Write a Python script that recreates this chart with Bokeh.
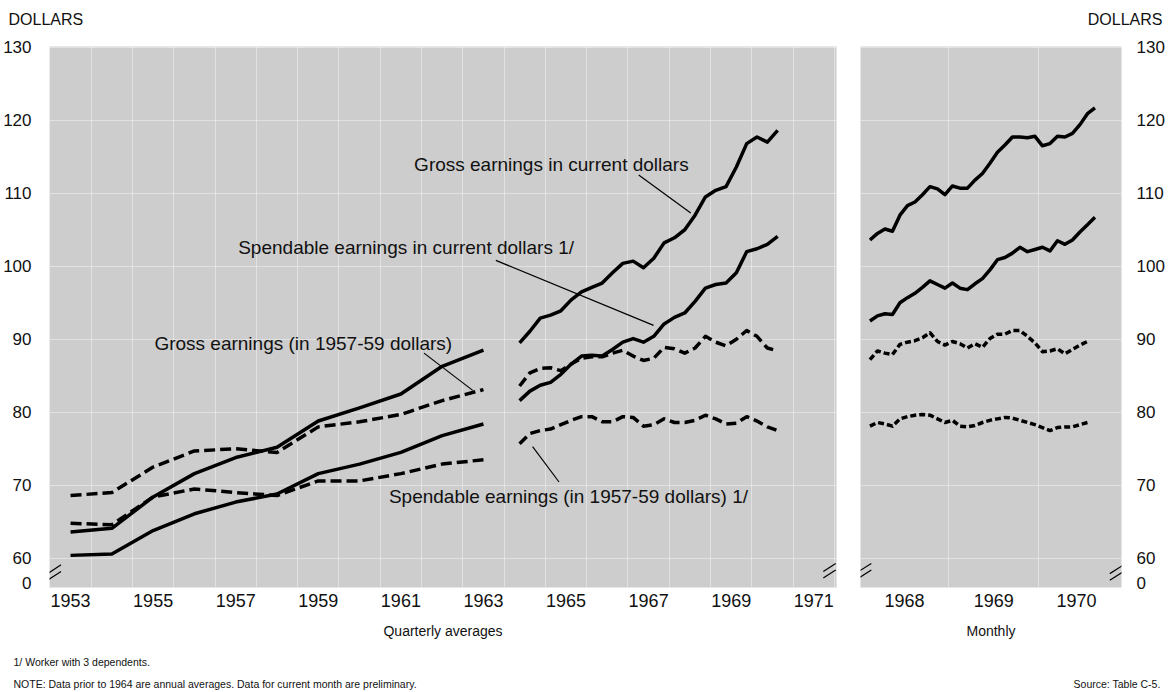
from bokeh.plotting import figure
from bokeh.models import FixedTicker, Label, CustomJSTickFormatter
from bokeh.layouts import row, column
from bokeh.embed import file_html
from bokeh.resources import INLINE

# ---------------- data ----------------
# Annual averages (1953-1963)
annual_years = [1953, 1954, 1955, 1956, 1957, 1958, 1959, 1960, 1961, 1962, 1963]
annual_gross_current = [63.6, 64.1, 68.4, 71.6, 73.8, 75.2, 78.8, 80.6, 82.5, 86.3, 88.5]
annual_gross_real = [68.6, 69.0, 72.5, 74.7, 75.0, 74.5, 78.0, 78.7, 79.7, 81.6, 83.1]
annual_spend_current = [60.4, 60.6, 63.8, 66.1, 67.7, 68.8, 71.6, 72.9, 74.5, 76.8, 78.4]
annual_spend_real = [64.8, 64.6, 68.4, 69.5, 69.0, 68.6, 70.6, 70.6, 71.6, 72.9, 73.5]

# Quarterly averages (1964-II .. 1970-III)
quarters = [f"{y}-{q}" for y in range(1964, 1971) for q in ("I", "II", "III", "IV")][1:27]
q_gross_current = [89.5, 91.1, 92.9, 93.3, 93.9, 95.4, 96.5, 97.1, 97.7, 99.1, 100.4, 100.7, 99.8,
                   101.1, 103.2, 103.9, 105.0, 107.0, 109.5, 110.4, 110.9, 113.6, 116.8, 117.7, 117.0, 118.6]
q_spend_current = [81.6, 82.9, 83.7, 84.1, 85.2, 86.6, 87.7, 87.8, 87.7, 88.6, 89.6, 90.1, 89.6,
                   90.4, 92.1, 93.0, 93.6, 95.2, 97.0, 97.5, 97.7, 99.1, 102.0, 102.4, 103.0, 104.1]
q_gross_real = [83.6, 85.4, 86.0, 86.1, 85.7, 86.6, 87.4, 87.6, 87.6, 88.1, 88.5, 87.7, 87.1,
                87.4, 88.9, 88.7, 88.1, 88.8, 90.4, 89.6, 89.1, 90.0, 91.2, 90.4, 88.8, 88.4]
q_spend_real = [75.7, 77.1, 77.5, 77.7, 78.3, 78.9, 79.4, 79.4, 78.7, 78.7, 79.4, 79.3, 78.1,
                78.3, 79.1, 78.6, 78.6, 78.9, 79.6, 79.1, 78.4, 78.5, 79.4, 78.8, 78.0, 77.5]

# Monthly (1968-02 .. 1970-08)
months = [f"{y}-{m:02d}" for y in range(1968, 1971) for m in range(1, 13)][1:32]
m_gross_current = [103.6, 104.5, 105.1, 104.8, 107.0, 108.3, 108.8, 109.8, 110.9, 110.6, 109.8,
                   111.0, 110.7, 110.7, 111.8, 112.7, 114.1, 115.6, 116.6, 117.7, 117.7, 117.6,
                   117.8, 116.5, 116.8, 117.8, 117.7, 118.2, 119.4, 120.9, 121.7]
m_spend_current = [92.5, 93.2, 93.5, 93.4, 95.0, 95.7, 96.3, 97.1, 98.0, 97.5, 97.0,
                   97.7, 97.0, 96.8, 97.6, 98.3, 99.5, 100.9, 101.2, 101.8, 102.6, 102.0,
                   102.3, 102.6, 102.1, 103.5, 103.0, 103.6, 104.7, 105.7, 106.7]
m_gross_real = [87.2, 88.4, 88.1, 87.9, 89.3, 89.6, 89.8, 90.2, 90.9, 89.7, 89.2,
                89.7, 89.4, 88.8, 89.4, 88.9, 90.1, 90.7, 90.7, 91.2, 91.2, 90.4,
                89.5, 88.3, 88.4, 88.7, 88.0, 88.6, 89.2, 89.7]
m_spend_real = [78.1, 78.6, 78.4, 78.1, 79.1, 79.4, 79.6, 79.7, 79.6, 79.1, 78.6,
                78.9, 78.1, 78.0, 78.2, 78.6, 78.9, 79.1, 79.3, 79.2, 78.9, 78.6,
                78.3, 77.9, 77.5, 77.9, 78.0, 78.0, 78.3, 78.6]

y_tick_values = [60, 70, 80, 90, 100, 110, 120, 130]
left_year_labels = [1953, 1955, 1957, 1959, 1961, 1963, 1965, 1967, 1969, 1971]
right_year_labels = [1968, 1969, 1970]

# ---------------- helpers ----------------
FONT = "Liberation Sans"
BG = "#cdcdcd"
W_LEFT, W_RIGHT = 848, 320
W = W_LEFT + W_RIGHT
H_HEAD, H_MAIN, H_FOOT = 34, 615, 41
ZERO_POS = 56.6  # position of the broken-axis "0"


def year_pos(y):
    return y + 0.5


def quarter_pos(label):
    y, q = label.split("-")
    return int(y) + ({"I": 1, "II": 2, "III": 3, "IV": 4}[q] - 0.5) / 4


def month_pos(label):
    y, m = label.split("-")
    return int(y) + (int(m) - 0.5) / 12


def style(p, x_ticks, x_grid):
    p.title.visible = False
    p.background_fill_color = BG
    p.border_fill_color = "white"
    p.outline_line_color = None
    for ax in p.xaxis + p.yaxis:
        ax.axis_line_color = None
        ax.major_tick_line_color = None
        ax.minor_tick_line_color = None
        ax.major_label_text_font = FONT
        ax.major_label_text_color = "#111111"
        ax.axis_label_text_font = FONT
        ax.axis_label_text_font_style = "normal"
        ax.axis_label_text_color = "#111111"
        ax.axis_label_text_font_size = "14px"
    p.yaxis.ticker = FixedTicker(ticks=[ZERO_POS] + y_tick_values)
    p.yaxis.formatter = CustomJSTickFormatter(code="return tick < 59 ? '0' : tick.toFixed(0);")
    p.yaxis.major_label_text_font_size = "17px"
    p.yaxis.major_label_standoff = 12
    p.xaxis.ticker = FixedTicker(ticks=x_ticks)
    p.xaxis.formatter = CustomJSTickFormatter(code="return Math.floor(tick).toString();")
    p.xaxis.major_label_text_font_size = "18px"
    p.xaxis.major_label_standoff = 0
    p.xaxis.axis_label_standoff = 13
    p.xgrid.ticker = FixedTicker(ticks=x_grid)
    p.ygrid.ticker = FixedTicker(ticks=y_tick_values)
    for g in (p.xgrid, p.ygrid):
        g.grid_line_color = "white"
        g.grid_line_alpha = 0.4
        g.grid_line_width = 1


def series(p, xs, ys, dash):
    p.line(xs, ys, line_color="black", line_width=3.5, line_dash=dash,
           line_join="round", line_cap="butt")


def brk(p, xc, yc, dx, dy, gap):
    p.segment(x0=[xc - dx, xc - dx], y0=[yc - dy - gap, yc - dy + gap],
              x1=[xc + dx, xc + dx], y1=[yc + dy - gap, yc + dy + gap],
              line_color="black", line_width=1.2)


def text(p, x, y, s, size="19px", align="left"):
    p.add_layout(Label(x=x, y=y, text=s, text_font=FONT, text_font_size=size,
                       text_color="#111111", text_baseline="middle", text_align=align))


def blank(height):
    f = figure(width=W, height=height, x_range=(0, W), y_range=(0, height),
               x_axis_type=None, y_axis_type=None, output_backend="svg",
               toolbar_location=None, min_border=0)
    f.title.visible = False
    f.outline_line_color = None
    f.background_fill_color = "white"
    f.border_fill_color = "white"
    return f


# ---------------- header ----------------
head = blank(H_HEAD)
text(head, 8, 15, "DOLLARS", size="16px")
text(head, 1162, 15, "DOLLARS", size="16px", align="right")

# ---------------- left panel: quarterly averages ----------------
p1 = figure(width=W_LEFT, height=H_MAIN, x_range=(1952.99, 1972.05), y_range=(56.0, 130.1),
            output_backend="svg", toolbar_location=None,
            min_border_left=48, min_border_right=12, min_border_top=12,
            min_border_bottom=H_MAIN - 12 - 541)
style(p1, [year_pos(y) for y in left_year_labels], list(range(1953, 1973)))
p1.xaxis.axis_label = "Quarterly averages"

ax = [year_pos(y) for y in annual_years]
series(p1, ax, annual_gross_current, "solid")
series(p1, ax, annual_spend_current, "solid")
series(p1, ax, annual_gross_real, "11 5")
series(p1, ax, annual_spend_real, "11 5")

qx = [quarter_pos(q) for q in quarters]
series(p1, qx, q_gross_current, "solid")
series(p1, qx, q_spend_current, "solid")
series(p1, qx, q_gross_real, "10 5")
series(p1, qx, q_spend_real, "10 5")

# annotations and leader lines
text(p1, 1961.82, 113.9, "Gross earnings in current dollars")
text(p1, 1957.56, 102.6, "Spendable earnings in current dollars  1/")
text(p1, 1955.53, 89.45, "Gross earnings (in 1957-59 dollars)")
text(p1, 1961.21, 68.5, "Spendable earnings (in 1957-59 dollars)   1/")
p1.segment(x0=[1967.26, 1963.80, 1962.06, 1964.69],
           y0=[112.5, 100.8, 88.1, 75.3],
           x1=[1968.52, 1967.62, 1963.24, 1965.33],
           y1=[107.3, 91.9, 83.0, 70.45],
           line_color="black", line_width=1.2)

brk(p1, 1953.12, 58.1, 0.15, 0.55, 0.45)
brk(p1, 1971.88, 58.3, 0.15, 0.55, 0.45)

# ---------------- right panel: monthly ----------------
p2 = figure(width=W_RIGHT, height=H_MAIN, x_range=(1968.02, 1970.92), y_range=(56.0, 130.1),
            output_backend="svg", toolbar_location=None, y_axis_location="right",
            min_border_left=12, min_border_right=W_RIGHT - 12 - 261, min_border_top=12,
            min_border_bottom=H_MAIN - 12 - 541)
style(p2, [1968.51, 1969.5, 1970.42], [1969, 1970])
p2.yaxis.major_label_standoff = 9
p2.xaxis.axis_label = "Monthly"

mx = [month_pos(m) for m in months]
series(p2, mx, m_gross_current, "solid")
series(p2, mx, m_spend_current, "solid")
series(p2, mx[:len(m_gross_real)], m_gross_real, "6 3")
series(p2, mx[:len(m_spend_real)], m_spend_real, "6 3")

brk(p2, 1968.07, 58.3, 0.07, 0.55, 0.45)
brk(p2, 1970.86, 58.0, 0.07, 0.55, 0.45)

# ---------------- footer ----------------
foot = blank(H_FOOT)
text(foot, 13, 29, "1/ Worker with 3 dependents.", size="10.5px")
text(foot, 13, 7, "NOTE: Data prior to 1964 are annual averages.   Data for current month are preliminary.",
     size="10.5px")
text(foot, 1160, 7, "Source: Table C-5.", size="10.5px", align="right")

layout = column(head, row(p1, p2), foot)
open("out.html", "w").write(file_html(layout, INLINE))
